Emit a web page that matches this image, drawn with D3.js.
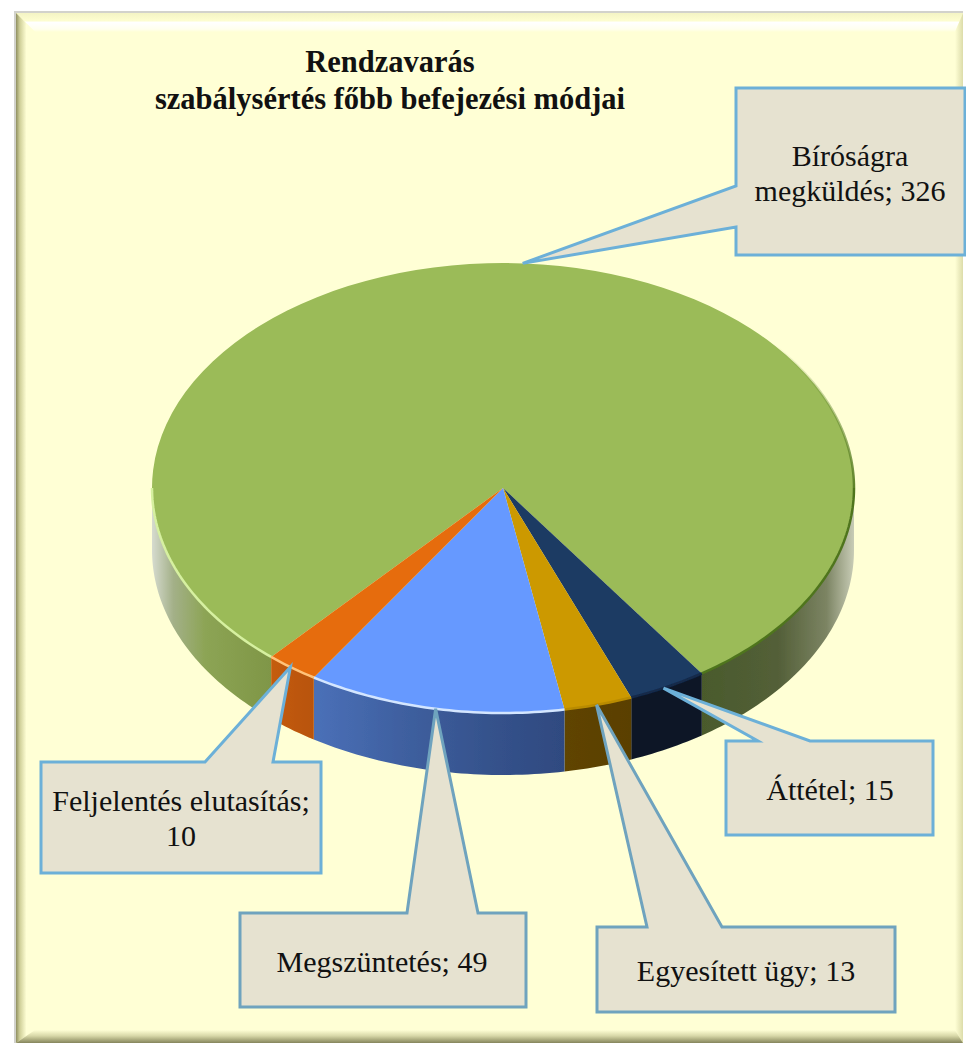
<!DOCTYPE html>
<html>
<head>
<meta charset="utf-8">
<script src="https://cdn.jsdelivr.net/npm/d3@7"></script>
<style>
  html, body { margin: 0; padding: 0; background: #fff; }
  svg { display: block; }
  text { font-family: "Liberation Serif", serif; fill: #111; }
</style>
</head>
<body>
<div id="chart"></div>
<script>
// data
const categories = ["Bíróságra megküldés", "Áttétel", "Egyesített ügy", "Megszüntetés", "Feljelentés elutasítás"];
const values = [326, 15, 13, 49, 10];
const titleLines = ["Rendzavarás", "szabálysértés főbb befejezési módjai"];

// styles
const topColors = ["#9bbb59", "#1b3a63", "#cc9900", "#6699ff", "#e66c0a"];
const rimColors = ["#d6f0a0", "#12294a", "#b98b00", "#d4e6ff", "#ffc27a"];
const sideStops = [
  null,
  [[0, "#0a1628"], [1, "#0a1628"]],
  [[0, "#5f4400"], [1, "#5a4000"]],
  [[0, "#4a70b8"], [0.35, "#3f60a0"], [0.7, "#35528c"], [1, "#2f4a80"]],
  [[0, "#c45c08"], [1, "#b85307"]]
];
const greenLeftStops = [[0, "#d6dbcf"], [0.18, "#a3b088"], [0.45, "#8ca454"], [1, "#7f9647"]];
const greenRightStops = [[0, "#4a5a2c"], [0.5, "#535f38"], [0.82, "#7c8463"], [1, "#c8ccb6"]];

// callout boxes, in the order of categories
const callouts = [
  { x: 736, y: 88, w: 229, h: 167, baseA: [736, 186], baseB: [736, 227], cx: 850, baseline: 166, wordsFirstLine: 1, tipShift: -0.2 },
  { x: 726, y: 741, w: 207, h: 94, baseA: [810, 741], baseB: [758, 741], cx: 830, baseline: 800, tipShift: 0.75 },
  { x: 597, y: 927, w: 298, h: 85, baseA: [722, 927], baseB: [647, 927], cx: 746, baseline: 981, tipShift: 0.3 },
  { x: 240, y: 913, w: 286, h: 94, baseA: [478, 913], baseB: [407, 913], cx: 382, baseline: 972, tipShift: -0.2 },
  { x: 41, y: 762, w: 280, h: 111, baseA: [273, 762], baseB: [205, 762], cx: 181, baseline: 811, wordsFirstLine: 2, tipShift: 0.3 }
];

const W = 966, H = 1045;
const cx = 503, cy = 488, rx = 351, ry = 225, depth = 62;
const rad = Math.PI / 180;
const startDeg = 145.5 - 360 * values[0] / d3.sum(values);

const svg = d3.select("#chart").append("svg").attr("width", W).attr("height", H);
const defs = svg.append("defs");

defs.append("filter").attr("id", "soft")
  .attr("x", 0).attr("y", 0).attr("width", W).attr("height", H)
  .attr("filterUnits", "userSpaceOnUse")
  .append("feGaussianBlur").attr("stdDeviation", 0.7);

function addGradient(id, stops, x1, y1, x2, y2, units) {
  const g = defs.append("linearGradient").attr("id", id)
    .attr("x1", x1).attr("y1", y1).attr("x2", x2).attr("y2", y2);
  if (units) g.attr("gradientUnits", units);
  stops.forEach(s => g.append("stop").attr("offset", s[0]).attr("stop-color", s[1])
    .attr("stop-opacity", s[2] === undefined ? 1 : s[2]));
}

// frame with the bevelled edges
addGradient("bevelTop", [[0, "#f4f4c4"], [0.4, "#fdfdd0"], [0.5, "#ffffff"], [0.85, "#ffffee"], [1, "#ffffd5"]], 0, 0, 0, 1);
addGradient("bevelLeft", [[0, "#8f8f60"], [0.2, "#cfcf98"], [0.55, "#ffffd5"], [1, "#ffffd5"]], 0, 0, 1, 0);
addGradient("bevelRight", [[0, "#ffffd5"], [1, "#dcdcaa"]], 0, 0, 1, 0);
addGradient("bevelBottom", [[0, "#ffffd5"], [0.45, "#d8d8a8"], [1, "#85855c"]], 0, 0, 0, 1);

const fx0 = 16, fy0 = 13, fx1 = 963, fy1 = 1043, bl = 19, bt = 19, br = 8, bb = 13;
svg.append("rect").attr("x", fx0 - 2).attr("y", fy0 - 2).attr("width", fx1 - fx0 + 2).attr("height", fy1 - fy0 + 2)
  .attr("fill", "#d2d2cc");
svg.append("rect").attr("x", fx0).attr("y", fy0).attr("width", fx1 - fx0).attr("height", fy1 - fy0).attr("fill", "#ffffd5");
const bevels = [
  { fill: "bevelTop", pts: [[fx0, fy0], [fx1, fy0], [fx1 - br, fy0 + bt], [fx0 + bl, fy0 + bt]] },
  { fill: "bevelLeft", pts: [[fx0, fy0], [fx0 + bl, fy0 + bt], [fx0 + bl, fy1 - bb], [fx0, fy1]] },
  { fill: "bevelRight", pts: [[fx1, fy0], [fx1, fy1], [fx1 - br, fy1 - bb], [fx1 - br, fy0 + bt]] },
  { fill: "bevelBottom", pts: [[fx0, fy1], [fx0 + bl, fy1 - bb], [fx1 - br, fy1 - bb], [fx1, fy1]] }
];
svg.selectAll("polygon.bevel").data(bevels).join("polygon").attr("class", "bevel")
  .attr("points", d => d.pts.join(" "))
  .attr("fill", d => `url(#${d.fill})`);

// title
svg.append("g").selectAll("text").data(titleLines).join("text")
  .attr("x", 390).attr("y", (d, i) => 72 + i * 37)
  .attr("text-anchor", "middle")
  .attr("font-size", 30.5).attr("font-weight", "bold")
  .text(d => d);

// pie
const pie = d3.pie().sort(null)
  .startAngle(startDeg * rad).endAngle((startDeg + 360) * rad);
const slices = pie(values);

const px = a => cx + rx * Math.sin(a);
const py = a => cy - ry * Math.cos(a);

// front wall, only where a slice crosses the front half of the pie
function frontPieces(s) {
  const out = [];
  [[90, 270], [450, 630], [-270, -90]].forEach(w => {
    const a0 = Math.max(s.startAngle, w[0] * rad), a1 = Math.min(s.endAngle, w[1] * rad);
    if (a1 > a0) out.push([a0, a1]);
  });
  return out;
}
const pieces = [];
slices.forEach((s, i) => frontPieces(s).forEach(p => pieces.push({ i, a0: p[0], a1: p[1] })));

function arcSamples(a0, a1) {
  const n = Math.max(2, Math.ceil((a1 - a0) / rad));
  return d3.range(n + 1).map(k => a0 + (a1 - a0) * k / n);
}
const lineGen = d3.line();

function sidePath(p) {
  const as = arcSamples(p.a0, p.a1);
  const top = as.map(a => [px(a), py(a)]);
  const bottom = as.slice().reverse().map(a => [px(a), py(a) + depth]);
  return lineGen(top.concat(bottom)) + "Z";
}

pieces.forEach((p, k) => {
  const xs = [px(p.a0), px(p.a1)];
  const left = d3.min(arcSamples(p.a0, p.a1).map(px)), right = d3.max(arcSamples(p.a0, p.a1).map(px));
  let stops = sideStops[p.i];
  if (p.i === 0) stops = xs[0] + xs[1] < 2 * cx ? greenLeftStops : greenRightStops;
  addGradient("side" + k, stops, left, 0, right, 0, "userSpaceOnUse");
});

const pieGroup = svg.append("g").attr("filter", "url(#soft)");

pieGroup.append("g").selectAll("path").data(pieces).join("path")
  .attr("d", sidePath)
  .attr("fill", (d, k) => `url(#side${k})`);

// top face
const arc = d3.arc().innerRadius(0).outerRadius(rx);
pieGroup.append("g")
  .attr("transform", `translate(${cx},${cy}) scale(1,${ry / rx})`)
  .selectAll("path").data(slices).join("path")
  .attr("d", arc)
  .attr("fill", (d, i) => topColors[i]);

// light rim on the front edge
pieGroup.append("g").selectAll("path").data(pieces).join("path")
  .attr("d", d => lineGen(arcSamples(d.a0, d.a1).map(a => [px(a), py(a)])))
  .attr("fill", "none")
  .attr("stroke-width", 2.5)
  .attr("stroke", d => d.i === 0 && px(d.a0) > cx ? "#4f751f" : rimColors[d.i]);

// dark rim on the right shoulder, fading out upwards
addGradient("shoulder", [[0, "#6b8f35", 0], [1, "#5c8128", 1]], 0, py(50 * rad), 0, py(90 * rad), "userSpaceOnUse");
pieGroup.append("path")
  .attr("d", lineGen(arcSamples(50 * rad, 90 * rad).map(a => [px(a), py(a)])))
  .attr("fill", "none").attr("stroke", "url(#shoulder)").attr("stroke-width", 2.5);

// callouts
const g = svg.append("g");
slices.forEach((s, i) => {
  const c = callouts[i];
  const mid = (s.startAngle + s.endAngle) / 2 + c.tipShift * rad;
  const tip = [px(mid), py(mid)];
  const x0 = c.x, y0 = c.y, x1 = c.x + c.w, y1 = c.y + c.h;
  // the pointer joins either the left side or the top side of the box
  const pts = c.baseA[0] === c.baseB[0] && c.baseA[0] === x0
    ? [[x0, y0], [x1, y0], [x1, y1], [x0, y1], c.baseB, tip, c.baseA]
    : [[x0, y0], c.baseB, tip, c.baseA, [x1, y0], [x1, y1], [x0, y1]];
  g.append("polygon")
    .attr("points", pts.join(" "))
    .attr("fill", "#e6e2d0")
    .attr("stroke", i === 2 || i === 3 ? "#6fa3be" : "#6cb0d8")
    .attr("stroke-width", 3)
    .attr("stroke-linejoin", "miter");

  const words = `${categories[i]}; ${values[i]}`.split(" ");
  const lines = c.wordsFirstLine
    ? [words.slice(0, c.wordsFirstLine).join(" "), words.slice(c.wordsFirstLine).join(" ")]
    : [words.join(" ")];
  lines.forEach((t, j) => {
    g.append("text")
      .attr("x", c.cx).attr("y", c.baseline + j * 35)
      .attr("text-anchor", "middle")
      .attr("font-size", 30)
      .text(t);
  });
});
</script>
</body>
</html>
